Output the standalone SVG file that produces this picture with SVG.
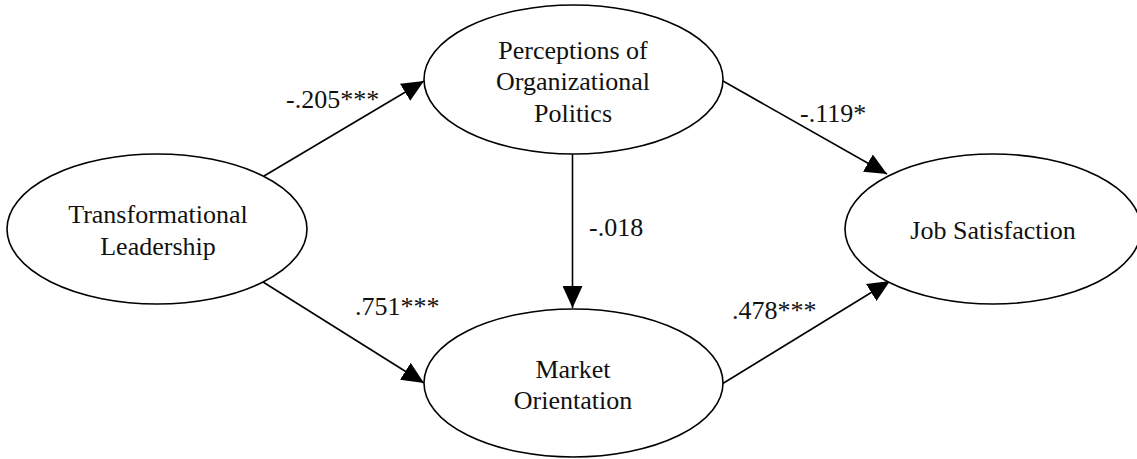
<svg xmlns="http://www.w3.org/2000/svg" width="1137" height="459" viewBox="0 0 1137 459">
<defs>
<style>
.node ellipse{fill:#fff;stroke:#000;stroke-width:1.6}
text{font-family:"Liberation Serif","Times New Roman",serif;font-size:26px;fill:#111;text-anchor:middle}
.edge line{stroke:#000;stroke-width:1.6;marker-end:url(#arr)}
.lbl{text-anchor:start}
</style>
<marker id="arr" viewBox="0 0 22 20" refX="22" refY="10" markerWidth="22" markerHeight="20" markerUnits="userSpaceOnUse" orient="auto">
<path d="M0,0 L22,10 L0,20 Z" fill="#000"/>
</marker>
</defs>
<rect width="1137" height="459" fill="#fff"/>
<g id="connectors" class="edge">
<line x1="264" y1="176" x2="424" y2="81"/>
<line x1="263" y1="282" x2="424" y2="383"/>
<line x1="723" y1="81" x2="887" y2="174"/>
<line x1="722" y1="384" x2="890" y2="281"/>
<line x1="572.5" y1="154" x2="572.5" y2="308"/>
</g>
<g id="labels">
<text class="lbl" x="286" y="108">-.205***</text>
<text class="lbl" x="355" y="315">.751***</text>
<text class="lbl" x="800" y="122">-.119*</text>
<text class="lbl" x="732" y="319">.478***</text>
<text class="lbl" x="589" y="236">-.018</text>
</g>
<g id="transformational-leadership" class="node">
<ellipse cx="157" cy="229" rx="150" ry="75"/>
<text x="158" y="223">Transformational</text>
<text x="158" y="255">Leadership</text>
</g>
<g id="perceptions-of-organizational-politics" class="node">
<ellipse cx="573.5" cy="79.5" rx="149.5" ry="74.5"/>
<text x="573" y="59">Perceptions of</text>
<text x="573" y="90">Organizational</text>
<text x="573" y="122">Politics</text>
</g>
<g id="market-orientation" class="node">
<ellipse cx="573.5" cy="383" rx="149.5" ry="74"/>
<text x="573" y="378">Market</text>
<text x="573" y="409">Orientation</text>
</g>
<g id="job-satisfaction" class="node">
<ellipse cx="993" cy="229" rx="148" ry="75"/>
<text x="993" y="239">Job Satisfaction</text>
</g>
</svg>
